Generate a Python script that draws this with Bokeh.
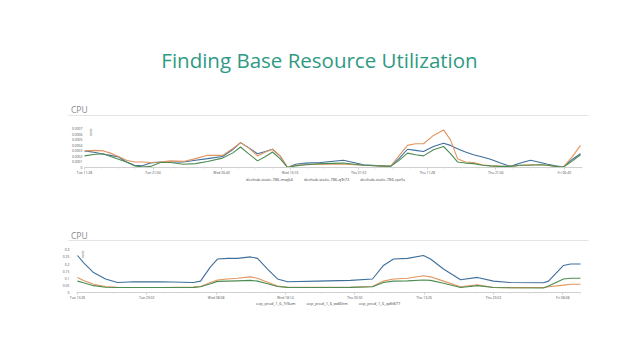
from bokeh.plotting import figure
from bokeh.models import Range1d, FixedTicker, Legend, LegendItem, LinearAxis
from bokeh.core.properties import value
from bokeh.embed import file_html
from bokeh.resources import INLINE

FONT = "Open Sans"
TITLE = "Finding Base Resource Utilization"
SECTION_1 = "CPU"
SECTION_2 = "CPU"
AXIS_NAME = "cores"

COLORS = ["#3f6f9b", "#e3955f", "#4d8c52"]

# ---------------- chart 1 data (hours since Tue 11:28) ----------------
c1_hours = [0, 1.54, 2.66, 3.64, 4.76, 5.88, 7.0, 8.12, 9.24, 10.64,
            12.04, 13.87, 15.55, 17.23, 19.33, 20.73, 21.85, 22.97, 24.23, 25.35,
            26.33, 27.45, 28.43, 29.55, 30.95, 33.05, 36.27, 39.08, 41.46, 42.86,
            43.98, 45.24, 46.36, 47.48, 48.88, 50.28, 51.26, 52.24, 53.36, 54.48,
            55.74, 56.86, 58.26, 59.66, 61.06, 62.46, 63.87, 64.85, 65.97, 67.09,
            68.35, 69.47]
c1_mwjk4 = [3.0e-4, 2.7e-4, 2.4e-4, 2.2e-4, 1.9e-4, 1.0e-4, 0.4e-4, 0.3e-4, 0.8e-4, 1.0e-4,
            1.0e-4, 1.0e-4, 1.3e-4, 1.6e-4, 2.0e-4, 3.2e-4, 4.5e-4, 3.6e-4, 2.5e-4, 2.9e-4,
            3.3e-4, 2.0e-4, 0.0, 0.6e-4, 0.8e-4, 0.9e-4, 1.3e-4, 0.5e-4, 0.3e-4, 0.2e-4,
            1.5e-4, 3.3e-4, 3.1e-4, 2.9e-4, 3.8e-4, 4.4e-4, 4.0e-4, 3.4e-4, 2.8e-4, 2.3e-4,
            1.9e-4, 1.5e-4, 0.8e-4, 0.2e-4, 0.8e-4, 1.3e-4, 0.9e-4, 0.6e-4, 0.3e-4, 0.1e-4,
            1.5e-4, 2.5e-4]
c1_q9t72 = [3.0e-4, 3.1e-4, 3.0e-4, 2.6e-4, 2.0e-4, 1.3e-4, 1.0e-4, 1.0e-4, 0.9e-4, 1.0e-4,
            1.2e-4, 1.1e-4, 1.6e-4, 2.2e-4, 2.2e-4, 3.4e-4, 4.5e-4, 3.6e-4, 2.1e-4, 2.8e-4,
            3.3e-4, 2.0e-4, 0.0, 0.4e-4, 0.5e-4, 0.6e-4, 0.6e-4, 0.4e-4, 0.3e-4, 0.2e-4,
            2.0e-4, 4.0e-4, 4.3e-4, 4.3e-4, 5.8e-4, 6.8e-4, 5.0e-4, 1.6e-4, 1.0e-4, 0.9e-4,
            0.5e-4, 0.3e-4, 0.2e-4, 0.2e-4, 0.4e-4, 0.5e-4, 0.5e-4, 0.4e-4, 0.2e-4, 0.1e-4,
            2.0e-4, 4.0e-4]
c1_rpz5s = [2.1e-4, 2.4e-4, 2.5e-4, 2.0e-4, 1.5e-4, 1.0e-4, 0.3e-4, 0.1e-4, 0.2e-4, 0.9e-4,
            0.9e-4, 0.6e-4, 0.7e-4, 1.1e-4, 1.7e-4, 2.6e-4, 3.7e-4, 2.5e-4, 1.2e-4, 2.0e-4,
            2.8e-4, 1.5e-4, 0.0, 0.3e-4, 0.5e-4, 0.7e-4, 0.8e-4, 0.4e-4, 0.3e-4, 0.2e-4,
            1.2e-4, 2.6e-4, 2.3e-4, 2.1e-4, 3.2e-4, 3.8e-4, 2.5e-4, 1.0e-4, 0.8e-4, 0.7e-4,
            0.4e-4, 0.3e-4, 0.2e-4, 0.2e-4, 0.4e-4, 0.4e-4, 0.5e-4, 0.4e-4, 0.2e-4, 0.1e-4,
            1.2e-4, 2.3e-4]
c1_names = ["devhub-static-786-mwjk4", "devhub-static-786-q9t72", "devhub-static-786-rpz5s"]
c1_x_ticks = [0, 9.6, 19.2, 28.8, 38.4, 48.0, 57.6, 67.2]
c1_x_labels = ["Tue 11:28", "Tue 21:04", "Wed 06:40", "Wed 16:16",
               "Thu 01:52", "Thu 11:28", "Thu 21:04", "Fri 06:40"]
c1_y_ticks = [0, 0.0001, 0.0002, 0.0003, 0.0004, 0.0005, 0.0006, 0.0007]
c1_y_labels = ["0", "0.0001", "0.0002", "0.0003", "0.0004", "0.0005", "0.0006", "0.0007"]

# ---------------- chart 2 data (hours since Tue 13:26) ----------------
c2_hours = [0, 0.83, 2.22, 3.88, 5.54, 7.76, 11.5, 16.07, 17.04, 18.42,
            19.39, 20.78, 22.16, 23.96, 24.93, 26.32, 27.7, 29.09, 33.24, 37.81,
            40.86, 42.38, 43.77, 45.71, 47.92, 48.89, 50.69, 53.05, 55.4, 57.62,
            59.97, 64.54, 65.24, 67.31, 68.28, 69.67]
c2_7t9um = [0.26, 0.21, 0.14, 0.095, 0.07, 0.075, 0.075, 0.07, 0.08, 0.18,
            0.235, 0.24, 0.24, 0.25, 0.24, 0.165, 0.095, 0.075, 0.08, 0.085,
            0.095, 0.19, 0.235, 0.24, 0.26, 0.235, 0.165, 0.09, 0.106, 0.08,
            0.07, 0.068, 0.08, 0.19, 0.2, 0.2]
c2_wd6hm = [0.105, 0.085, 0.058, 0.042, 0.036, 0.035, 0.035, 0.038, 0.042, 0.07,
            0.088, 0.095, 0.1, 0.11, 0.1, 0.072, 0.045, 0.037, 0.036, 0.037,
            0.042, 0.08, 0.095, 0.1, 0.118, 0.11, 0.08, 0.04, 0.055, 0.035,
            0.034, 0.035, 0.04, 0.052, 0.058, 0.058]
c2_qdh877 = [0.08, 0.068, 0.048, 0.037, 0.035, 0.035, 0.035, 0.036, 0.04, 0.062,
             0.078, 0.08, 0.082, 0.085, 0.08, 0.062, 0.042, 0.036, 0.035, 0.036,
             0.04, 0.07, 0.08, 0.082, 0.088, 0.085, 0.065, 0.035, 0.048, 0.035,
             0.033, 0.032, 0.045, 0.095, 0.1, 0.1]
c2_names = ["ocp_prod_1_6_7t9um", "ocp_prod_1_6_wd6hm", "ocp_prod_1_6_qdh877"]
c2_x_ticks = [0, 9.6, 19.2, 28.8, 38.4, 48.0, 57.6, 67.2]
c2_x_labels = ["Tue 13:26", "Tue 23:02", "Wed 08:38", "Wed 18:14",
               "Thu 03:50", "Thu 13:26", "Thu 23:02", "Fri 08:38"]
c2_y_ticks = [0, 0.05, 0.1, 0.15, 0.2, 0.25, 0.3]
c2_y_labels = ["0", "0.05", "0.1", "0.15", "0.2", "0.25", "0.3"]

# ---------------- page geometry (window pixels) ----------------
W, H = 624, 344
PAGE_OFF = 0            # canvas origin as observed in the window
FX0, FX1 = 48, 624      # frame left/right in window px
FY0, FY1 = 8, 312       # frame top/bottom in window px


def fit_range(v0, p0, v1, p1, lo, hi):
    """Range whose values sit at pixel p0 -> v0 and p1 -> v1, spanning pixels lo..hi."""
    k = (v1 - v0) / (p1 - p0)
    return Range1d(v0 + (lo - p0) * k, v0 + (hi - p0) * k)


p = figure(width=W, height=H, output_backend="svg", toolbar_location=None, title=None,
           x_range=Range1d(FX0, FX1), y_range=Range1d(FY1, FY0),
           x_axis_location=None, y_axis_location=None,
           min_border_left=FX0 - PAGE_OFF, min_border_right=W - (FX1 - PAGE_OFF),
           min_border_top=FY0 - PAGE_OFF, min_border_bottom=H - (FY1 - PAGE_OFF),
           outline_line_color=None, background_fill_color="white", border_fill_color="white")
p.grid.visible = False

# chart 1: hour 0 at x=84, 7.14 px/h ; value 0 at y=167, 0.0007 at y=128.3
# chart 2: hour 0 at x=77, 7.22 px/h ; value 0 at y=292, 0.3 at y=249.3
p.extra_x_ranges = {"c1x": fit_range(0, 84, 9.6, 84 + 9.6 * 7.14, FX0, FX1),
                    "c2x": fit_range(0, 77, 9.6, 77 + 9.6 * 7.22, FX0, FX1)}
p.extra_y_ranges = {"c1y": fit_range(0, 167, 0.0007, 128.3, FY1, FY0),
                    "c2y": fit_range(0, 292, 0.3, 249.3, FY1, FY0)}

# ---- headings ----
p.text(x=[319], y=[59.3], text=[TITLE], text_font=value(FONT), text_font_size="20.5px",
       text_color="#2f9a84", text_align="center", text_baseline="alphabetic")
for label, base_y, line_y in [(SECTION_1, 109.3, 115), (SECTION_2, 234.5, 240)]:
    p.text(x=[70.5], y=[base_y], text=[label], text_font=value(FONT), text_font_size="8.5px",
           text_color="#8a8a8a", text_baseline="alphabetic", text_align="left")
    p.segment(x0=[68], y0=[line_y], x1=[588], y1=[line_y], line_color="#e4e4e4", line_width=1)


def draw_chart(tag, hours, series, names, xt, xl, x_end, yt, yl, y_axis_at, y_standoff,
               tag_pos, leg_pos):
    xr, yr = tag + "x", tag + "y"
    for ys, c in zip(series, COLORS):
        p.line(hours, ys, x_range_name=xr, y_range_name=yr, line_color=c, line_width=1.1)

    xa = LinearAxis(x_range_name=xr, y_range_name=yr, fixed_location=0,
                    bounds=(y_axis_at, x_end),
                    ticker=FixedTicker(ticks=xt, minor_ticks=[i * 2.4 for i in range(30)]))
    xa.major_label_overrides = {t: l for t, l in zip(xt, xl)}
    xa.major_label_text_font = FONT
    xa.major_label_text_font_size = "3.4px"
    xa.major_label_text_color = "#555555"
    xa.axis_line_color = "#d0d0d0"
    xa.major_tick_line_color = "#c8c8c8"
    xa.minor_tick_line_color = "#d8d8d8"
    xa.major_tick_out = 2
    xa.major_tick_in = 0
    xa.minor_tick_out = 1
    xa.minor_tick_in = 0
    xa.major_label_standoff = 0
    p.add_layout(xa, "below")

    ya = LinearAxis(x_range_name=xr, y_range_name=yr, fixed_location=y_axis_at,
                    bounds=(yt[0], yt[-1]), ticker=FixedTicker(ticks=yt))
    ya.major_label_overrides = {t: l for t, l in zip(yt, yl)}
    ya.major_label_text_font = FONT
    ya.major_label_text_font_size = "3.4px"
    ya.major_label_text_color = "#555555"
    ya.axis_line_color = None
    ya.major_tick_line_color = None
    ya.minor_tick_line_color = None
    ya.major_tick_out = 0
    ya.major_label_standoff = y_standoff
    p.add_layout(ya, "left")

    p.text(x=[tag_pos[0]], y=[tag_pos[1]], text=[AXIS_NAME], angle=1.5708,
           text_font=value(FONT), text_font_size="3px", text_color="#555555",
           text_align="right", text_baseline="middle")

    items = []
    for n, c in zip(names, COLORS):
        r = p.quad(left=[], right=[], top=[], bottom=[], fill_color=c, line_color=c)
        items.append(LegendItem(label=n, renderers=[r]))
    leg = Legend(items=items, orientation="horizontal", location=leg_pos,
                 label_text_font=FONT, label_text_font_size="4px", label_text_color="#444444",
                 glyph_width=4, glyph_height=4, label_height=5, label_width=10,
                 label_standoff=2, spacing=5, padding=0, margin=0,
                 border_line_color=None, background_fill_alpha=0)
    p.add_layout(leg)


draw_chart("c1", c1_hours, [c1_mwjk4, c1_q9t72, c1_rpz5s], c1_names,
           c1_x_ticks, c1_x_labels, 69.75, c1_y_ticks, c1_y_labels, 0, 2,
           (90, 128), (240 - FX0, FY1 - 181.5))
draw_chart("c2", c2_hours, [c2_7t9um, c2_wd6hm, c2_qdh877], c2_names,
           c2_x_ticks, c2_x_labels, 69.67, c2_y_ticks, c2_y_labels, -0.14, 7,
           (82, 250), (250 - FX0, FY1 - 305.5))

open("out.html", "w").write(file_html(p, INLINE))
